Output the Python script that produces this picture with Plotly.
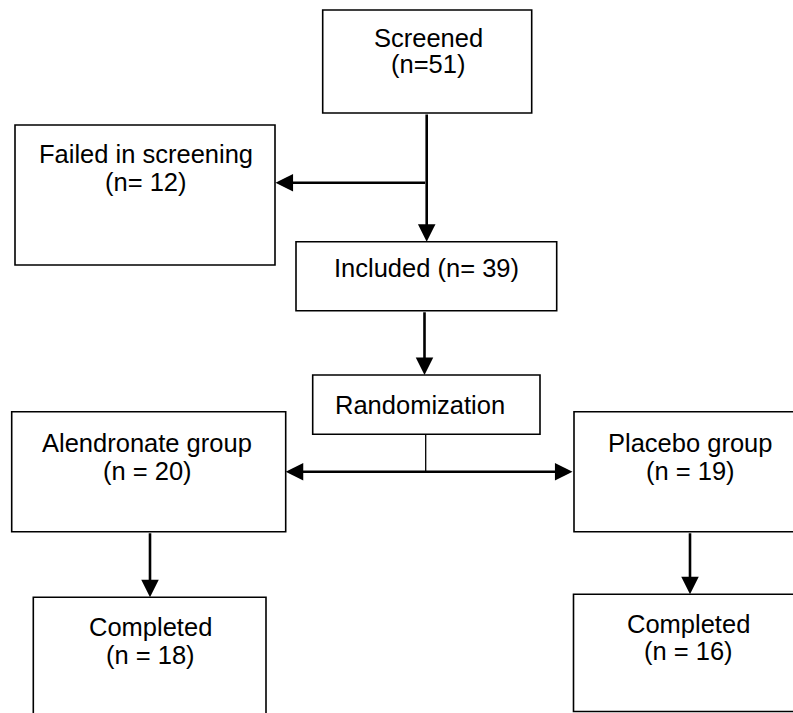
import plotly.graph_objects as go

W, H = 793, 713

# ---- content (data) ----
line1 = ["Screened", "Failed in screening", "Included (n= 39)", "Randomization",
         "Alendronate group", "Placebo group", "Completed", "Completed"]
line2 = ["(n=51)", "(n= 12)", "", "", "(n = 20)", "(n = 19)", "(n = 18)", "(n = 16)"]

# ---- layout geometry (pixels) ----
boxes = [  # x0, x1, y0, y1
    (322.7, 531.7, 10, 113),
    (15, 275, 125, 265),
    (296, 556.7, 241.7, 310.7),
    (312.7, 540, 375, 434.3),
    (11.7, 285.7, 411.7, 531.7),
    (574, 830, 411.7, 531.7),
    (33.3, 266, 597.3, 740),
    (573.5, 830, 594.3, 711.5),
]
text_x = [428.3, 145.5, 426, 420, 147, 690, 150, 688.5]
text_y1 = [37.8, 153.7, 268, 404.5, 442.8, 442.8, 627, 623.7]
gap = [26.5, 28, 0, 0, 27.7, 27.7, 27.6, 27.6]

FONT = "Arial, Liberation Sans, sans-serif"
FS = 25.5

fig = go.Figure()
fig.add_trace(go.Scatter(x=[0, W], y=[0, H], mode="markers",
                         marker=dict(opacity=0), hoverinfo="skip", showlegend=False))

shapes = []
for (x0, x1, y0, y1) in boxes:
    shapes.append(dict(type="rect", x0=x0, x1=x1, y0=y0, y1=y1, xref="x", yref="y",
                       line=dict(color="black", width=1.6), fillcolor="rgba(0,0,0,0)"))
# thin connector from Randomization down to the split line
shapes.append(dict(type="line", x0=425.7, x1=425.7, y0=434.3, y1=471.7, xref="x", yref="y",
                   line=dict(color="black", width=1.3)))

annotations = []
for i in range(len(line1)):
    annotations.append(dict(x=text_x[i], y=text_y1[i], xref="x", yref="y", text=line1[i],
                            showarrow=False, xanchor="center", yanchor="middle",
                            font=dict(family=FONT, size=FS, color="black")))
    if line2[i]:
        annotations.append(dict(x=text_x[i], y=text_y1[i] + gap[i], xref="x", yref="y",
                                text=line2[i], showarrow=False, xanchor="center",
                                yanchor="middle",
                                font=dict(family=FONT, size=FS, color="black")))

arrows = [  # tail (ax, ay) -> head (x, y), double?
    (426.7, 113, 426.7, 241.7, False),
    (426.7, 182.7, 275.5, 182.7, False),
    (424.5, 310.7, 424.5, 375, False),
    (574, 471.7, 285.7, 471.7, True),
    (150, 531.7, 150, 597.3, False),
    (690, 531.7, 690, 594.3, False),
]
for (ax, ay, x, y, dbl) in arrows:
    a = dict(x=x, y=y, ax=ax, ay=ay, xref="x", yref="y", axref="x", ayref="y",
             text="", showarrow=True, arrowhead=2, arrowsize=1.35, arrowwidth=2.6,
             arrowcolor="black", standoff=0, startstandoff=0)
    if dbl:
        a.update(arrowside="end+start", startarrowhead=2, startarrowsize=1.35)
    annotations.append(a)

fig.update_layout(
    width=W, height=H,
    margin=dict(l=0, r=0, t=0, b=0),
    paper_bgcolor="white", plot_bgcolor="white",
    xaxis=dict(range=[0, W], visible=False, fixedrange=True),
    yaxis=dict(range=[H, 0], visible=False, fixedrange=True),
    shapes=shapes, annotations=annotations, showlegend=False,
)
fig.write_html(
    "out.html",
    config={"displayModeBar": False},
    post_script="document.body.style.margin='0';document.body.style.overflow='hidden';"
                "document.documentElement.style.overflow='hidden';",
)
